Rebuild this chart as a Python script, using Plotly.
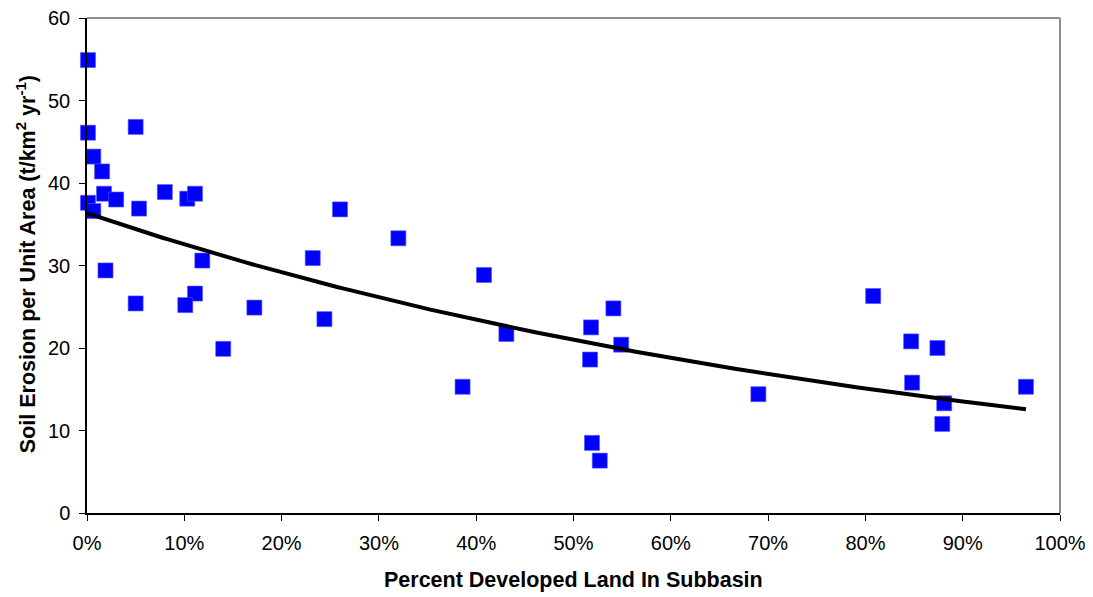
import numpy as np
import plotly.graph_objects as go

# Percent developed land (%) and soil erosion (t/km2/yr)
pct_developed = [0.1, 0.1, 0.65, 1.55, 1.75, 3.0, 0.1, 0.65, 1.9, 5.0, 5.35, 5.0,
                 8.0, 10.3, 11.1, 11.85, 11.1, 10.1, 14.0, 17.2, 23.2, 26.0, 24.4,
                 32.0, 38.6, 40.8, 43.1, 51.8, 54.1, 51.7, 54.9, 51.9, 52.7, 69.0,
                 80.8, 84.7, 87.4, 84.8, 88.1, 87.9, 96.5]
soil_erosion = [54.9, 46.1, 43.2, 41.4, 38.7, 38.0, 37.6, 36.6, 29.4, 46.8, 36.9, 25.4,
                38.9, 38.1, 38.7, 30.6, 26.6, 25.2, 19.9, 24.9, 30.9, 36.8, 23.5,
                33.3, 15.3, 28.85, 21.7, 22.5, 24.8, 18.6, 20.4, 8.5, 6.35, 14.4,
                26.3, 20.8, 20.0, 15.8, 13.3, 10.8, 15.3]

# Exponential trend fitted to the data (least squares on log y)
xd = np.array(pct_developed) / 100.0
yd = np.array(soil_erosion)
b, ln_a = np.polyfit(xd, np.log(yd), 1)
trend_x = np.linspace(0, xd.max(), 200)
trend_y = np.exp(ln_a) * np.exp(b * trend_x)

x_ticks = list(range(0, 101, 10))
y_ticks = list(range(0, 61, 10))
x_title = "<b>Percent Developed Land In Subbasin</b>"
y_title = "<b>Soil Erosion per Unit Area (t/km<sup>2</sup> yr<sup>-1</sup>)</b>"

fig = go.Figure()
fig.add_trace(go.Scatter(
    x=pct_developed, y=soil_erosion, mode="markers", cliponaxis=False,
    marker=dict(symbol="square", size=15, color="#0000FF",
                line=dict(width=0.6, color="#5050FF")),
    showlegend=False, hoverinfo="x+y"))
fig.add_trace(go.Scatter(
    x=trend_x * 100, y=trend_y, mode="lines", cliponaxis=False,
    line=dict(color="black", width=4), showlegend=False))

font = "Liberation Sans, Arial, sans-serif"
fig.update_layout(
    width=1085, height=589,
    margin=dict(l=79, r=33, t=10, b=84),
    paper_bgcolor="white", plot_bgcolor="white",
    font=dict(family=font, size=20, color="black"),
    xaxis=dict(range=[0, 100], tickvals=x_ticks, ticktext=[f"{v}%" for v in x_ticks],
               showgrid=False, zeroline=False, showline=True, linecolor="black",
               linewidth=1.5, ticks="outside", ticklen=6, tickcolor="black",
               automargin=False, tickfont=dict(size=20), ticklabelstandoff=5,
               ticklabeloverflow="allow"),
    yaxis=dict(range=[0, 60], tickvals=y_ticks, showgrid=False, zeroline=False,
               showline=True, linecolor="black", linewidth=1.5, ticks="outside",
               ticklen=6, tickcolor="black", automargin=False,
               tickfont=dict(size=20), ticklabelstandoff=5,
               ticklabeloverflow="allow"),
    annotations=[
        dict(text=x_title, xref="paper", yref="paper", x=0.5, y=-0.135,
             xanchor="center", yanchor="middle", showarrow=False,
             font=dict(size=21.5)),
        dict(text=y_title, xref="paper", yref="paper", x=-0.063, y=0.502,
             xanchor="center", yanchor="middle", showarrow=False, textangle=-90,
             font=dict(size=21.5)),
    ],
    shapes=[
        dict(type="line", xref="paper", yref="paper", x0=0, x1=1, y0=1, y1=1,
             layer="above", line=dict(color="#8C8C8C", width=2)),
        dict(type="line", xref="paper", yref="paper", x0=1, x1=1, y0=0, y1=1,
             layer="above", line=dict(color="#8C8C8C", width=2)),
    ],
)

fig.write_html("out.html")
